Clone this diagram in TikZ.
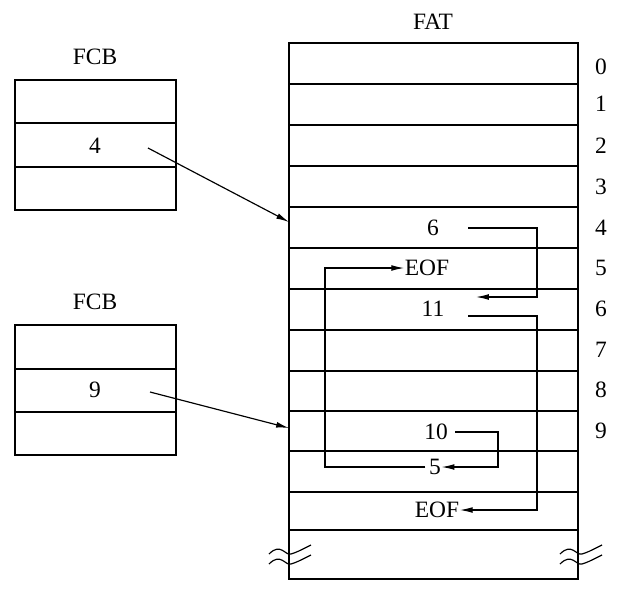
\documentclass[tikz,border=0pt]{standalone}
\usepackage{fontspec}
\setmainfont{Liberation Serif}
\usetikzlibrary{arrows.meta}
\begin{document}
\begin{tikzpicture}[x=0.03cm,y=-0.03cm,line width=1.2pt,
  txt/.style={inner sep=0pt,font=\fontsize{20}{24}\selectfont},
  arr/.style={-{Latex[length=11pt,width=5pt]},line width=1pt},
  con/.style={line width=1pt}]
\useasboundingbox (0,0) rectangle (628,603);
% FAT
\draw (289,43) rectangle (578,530);
\foreach \y in {84,125,166,207,248,289,330,371,411,451,492}{\draw (289,\y)--(578,\y);}
\draw (289,530)--(289,579)--(578,579)--(578,530);
\foreach \x in {289,580}{
 \foreach \d in {0,10}{
  \draw[line width=1pt] (\x-20,554+\d) .. controls (\x-8,542+\d) and (\x-4,556+\d) .. (\x+2,554+\d)
     .. controls (\x+8,552+\d) .. (\x+22,545+\d);}}
\node[txt] (fat) at (433,22) {FAT};
\foreach \i/\y in {0/67,1/104,2/146,3/187,4/228,5/268,6/309,7/350,8/390,9/431}{
  \node[txt] (r\i) at (601,\y) {\i};}
% FCBs
\draw (15,80) rectangle (176,210); \draw (15,123)--(176,123); \draw (15,167)--(176,167);
\draw (15,325) rectangle (176,455); \draw (15,369)--(176,369); \draw (15,412)--(176,412);
\node[txt] (fcb1) at (95,57) {FCB};
\node[txt] (fcb2) at (95,302) {FCB};
\node[txt] (a4) at (95,146) {4};
\node[txt] (a9) at (95,390) {9};
\coordinate (s1) at (148,148); \coordinate (t1) at (289,222);
\coordinate (s2) at (150,392); \coordinate (t2) at (289,428);
\draw[arr] (s1)--(t1);
\draw[arr] (s2)--(t2);
% entries
\node[txt] (e4) at (433,228) {6};
\node[txt] (e5) at (427,268) {EOF};
\node[txt] (e6) at (433,309) {11};
\node[txt] (e9) at (436,432) {10};
\node[txt] (e10) at (435,467) {5};
\node[txt] (e11) at (437,510) {EOF};
\draw[con,arr] (468,228) -| (537,297) -- (476,297);
\draw[con,arr] (468,316) -| (537,510) -- (e11.east);
\draw[con,arr] (455,432) -| (498,467) -- (e10.east |- 0,467);
\draw[con,arr] (e10.west |- 0,467) ++(-3,0) -| (325,268) -- (e5.west);
\end{tikzpicture}
\end{document}
